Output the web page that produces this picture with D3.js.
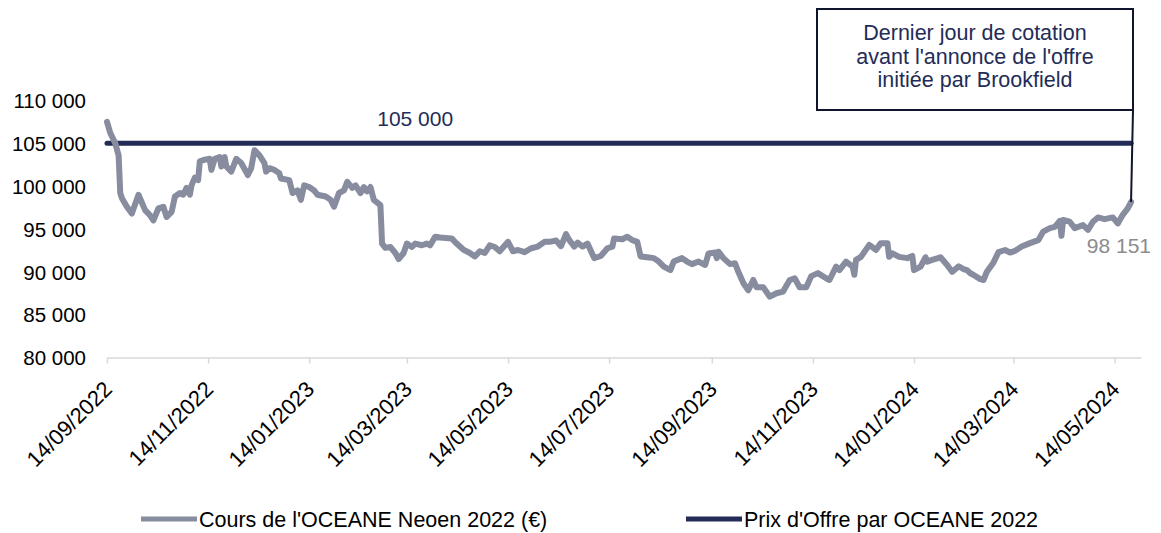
<!DOCTYPE html>
<html>
<head>
<meta charset="utf-8">
<script src="https://cdn.jsdelivr.net/npm/d3@7"></script>
<style>
  html, body { margin: 0; padding: 0; background: #fff; }
  svg { display: block; font-family: "Liberation Sans", Arial, sans-serif; }
</style>
</head>
<body>
<div id="chart"></div>
<script>
// ---------------------------------------------------------------
// Data
// ---------------------------------------------------------------
var coursOceane = [
  ['2022-09-14', 107500], ['2022-09-16', 106200], ['2022-09-19', 105000], ['2022-09-21', 103600],
  ['2022-09-22', 99200], ['2022-09-23', 98600], ['2022-09-26', 97600], ['2022-09-29', 96800],
  ['2022-10-03', 99000], ['2022-10-07', 97200], ['2022-10-10', 96600], ['2022-10-12', 96000],
  ['2022-10-15', 97400], ['2022-10-18', 97600], ['2022-10-20', 96400], ['2022-10-23', 97000],
  ['2022-10-25', 98800], ['2022-10-28', 99200], ['2022-10-30', 99000], ['2022-11-01', 99800],
  ['2022-11-03', 99000], ['2022-11-04', 100100], ['2022-11-06', 101000], ['2022-11-08', 100700],
  ['2022-11-09', 102900], ['2022-11-12', 103100], ['2022-11-15', 103200], ['2022-11-16', 101900],
  ['2022-11-18', 103200], ['2022-11-21', 103400], ['2022-11-22', 102300], ['2022-11-24', 103400],
  ['2022-11-25', 102300], ['2022-11-28', 101700], ['2022-12-01', 103200], ['2022-12-04', 102700],
  ['2022-12-08', 101300], ['2022-12-10', 102100], ['2022-12-12', 104200], ['2022-12-15', 103600],
  ['2022-12-18', 102700], ['2022-12-19', 101700], ['2022-12-21', 102100], ['2022-12-24', 101900],
  ['2022-12-27', 101500], ['2022-12-28', 100900], ['2023-01-02', 100700], ['2023-01-04', 99200],
  ['2023-01-07', 99500], ['2023-01-09', 98400], ['2023-01-11', 100100], ['2023-01-14', 99900],
  ['2023-01-17', 99500], ['2023-01-19', 99000], ['2023-01-24', 98800], ['2023-01-27', 98400],
  ['2023-01-29', 97600], ['2023-02-01', 99200], ['2023-02-04', 99500], ['2023-02-06', 100500],
  ['2023-02-09', 99800], ['2023-02-11', 100100], ['2023-02-14', 99200], ['2023-02-16', 99900],
  ['2023-02-18', 99400], ['2023-02-20', 99900], ['2023-02-22', 98400], ['2023-02-26', 97800],
  ['2023-02-27', 93300], ['2023-03-01', 92800], ['2023-03-04', 92900], ['2023-03-07', 92200],
  ['2023-03-09', 91500], ['2023-03-12', 92200], ['2023-03-14', 93300], ['2023-03-17', 92900],
  ['2023-03-19', 93300], ['2023-03-23', 93100], ['2023-03-26', 93300], ['2023-03-28', 93100],
  ['2023-03-31', 94100], ['2023-04-03', 94000], ['2023-04-10', 93900], ['2023-04-13', 93300],
  ['2023-04-17', 92600], ['2023-04-21', 92200], ['2023-04-24', 91800], ['2023-04-27', 92400],
  ['2023-04-30', 92200], ['2023-05-03', 93100], ['2023-05-06', 92900], ['2023-05-09', 92400],
  ['2023-05-14', 93500], ['2023-05-17', 92400], ['2023-05-20', 92550], ['2023-05-24', 92300],
  ['2023-05-28', 92750], ['2023-06-01', 92950], ['2023-06-05', 93500], ['2023-06-08', 93500],
  ['2023-06-12', 93650], ['2023-06-15', 93000], ['2023-06-18', 94400], ['2023-06-20', 93700],
  ['2023-06-23', 92950], ['2023-06-25', 93400], ['2023-06-28', 92950], ['2023-07-01', 93300],
  ['2023-07-05', 91600], ['2023-07-09', 91850], ['2023-07-13', 92750], ['2023-07-16', 92950],
  ['2023-07-17', 93900], ['2023-07-22', 93800], ['2023-07-25', 94100], ['2023-07-28', 93700],
  ['2023-07-31', 93500], ['2023-08-02', 91800], ['2023-08-06', 91700], ['2023-08-10', 91600],
  ['2023-08-13', 91200], ['2023-08-16', 90600], ['2023-08-20', 90200], ['2023-08-22', 91200],
  ['2023-08-27', 91600], ['2023-08-30', 91200], ['2023-09-02', 90900], ['2023-09-06', 91200],
  ['2023-09-10', 90800], ['2023-09-12', 92150], ['2023-09-16', 92250], ['2023-09-17', 91600],
  ['2023-09-18', 92350], ['2023-09-21', 91600], ['2023-09-25', 90900], ['2023-09-28', 91000],
  ['2023-09-30', 90000], ['2023-10-03', 88700], ['2023-10-06', 87850], ['2023-10-09', 89050],
  ['2023-10-11', 88200], ['2023-10-15', 88200], ['2023-10-19', 87100], ['2023-10-23', 87500],
  ['2023-10-27', 87700], ['2023-10-31', 89050], ['2023-11-03', 89250], ['2023-11-06', 88200],
  ['2023-11-10', 88200], ['2023-11-13', 89500], ['2023-11-17', 89850], ['2023-11-22', 89250],
  ['2023-11-24', 89050], ['2023-11-28', 90600], ['2023-11-30', 90200], ['2023-12-04', 91200],
  ['2023-12-08', 90600], ['2023-12-09', 89650], ['2023-12-10', 91400], ['2023-12-13', 91750],
  ['2023-12-18', 93150], ['2023-12-22', 92550], ['2023-12-25', 93350], ['2023-12-29', 93350],
  ['2023-12-30', 91750], ['2024-01-01', 92150], ['2024-01-05', 91750], ['2024-01-10', 91600],
  ['2024-01-13', 91850], ['2024-01-14', 90200], ['2024-01-18', 90600], ['2024-01-21', 91700],
  ['2024-01-22', 91200], ['2024-01-25', 91400], ['2024-01-30', 91700], ['2024-02-03', 90800],
  ['2024-02-06', 90000], ['2024-02-10', 90650], ['2024-02-13', 90300], ['2024-02-15', 90200],
  ['2024-02-17', 89830], ['2024-02-19', 89630], ['2024-02-23', 89150], ['2024-02-25', 89050],
  ['2024-02-27', 90020], ['2024-03-02', 91100], ['2024-03-05', 92300], ['2024-03-09', 92550],
  ['2024-03-12', 92250], ['2024-03-15', 92450], ['2024-03-19', 92950], ['2024-03-24', 93350],
  ['2024-03-29', 93700], ['2024-04-01', 94700], ['2024-04-05', 95100], ['2024-04-08', 95250],
  ['2024-04-11', 95950], ['2024-04-12', 94200], ['2024-04-13', 96050], ['2024-04-17', 95850],
  ['2024-04-20', 95100], ['2024-04-25', 95450], ['2024-04-28', 94900], ['2024-05-01', 95850],
  ['2024-05-04', 96350], ['2024-05-08', 96150], ['2024-05-13', 96350], ['2024-05-16', 95650],
  ['2024-05-19', 96650], ['2024-05-22', 97400], ['2024-05-24', 98151]
];

var prixOffre = 105000;
var xTickDates = ['2022-09-14', '2022-11-14', '2023-01-14', '2023-03-14', '2023-05-14',
  '2023-07-14', '2023-09-14', '2023-11-14', '2024-01-14', '2024-03-14', '2024-05-14'];
var yTicks = [80000, 85000, 90000, 95000, 100000, 105000, 110000];
var xDomain = ['2022-09-14', '2024-05-30'];
var legendLabels = ["Cours de l'OCEANE Neoen 2022 (€)", "Prix d'Offre par OCEANE 2022"];
var annotationLines = ['Dernier jour de cotation', "avant l'annonce de l'offre", 'initiée par Brookfield'];
var offreLabelDate = '2023-03-19';

// ---------------------------------------------------------------
var W = 1161, H = 533;
var GREY = '#878c9f', NAVY = '#232c57', DARK = '#10152e';
var parse = d3.timeParse('%Y-%m-%d');
var fmtDate = d3.timeFormat('%d/%m/%Y');
var fr = d3.formatLocale({ decimal: ',', thousands: ' ', grouping: [3], currency: ['', ' €'] });
var fmtNum = fr.format(',.0f');

var series = coursOceane.map(function (d) { return { date: parse(d[0]), value: d[1] }; });
var first = series[0], last = series[series.length - 1];

var x = d3.scaleTime().domain(xDomain.map(parse)).range([107, 1141]);
var y = d3.scaleLinear().domain([80000, 110000]).range([357.5, 100.5]);

var svg = d3.select('#chart').append('svg').attr('width', W).attr('height', H);

// x axis
var xAxis = d3.axisBottom(x)
  .tickValues(xTickDates.map(parse))
  .tickFormat(fmtDate)
  .tickSize(6)
  .tickSizeOuter(0);
var gx = svg.append('g').attr('transform', 'translate(0,' + y(80000) + ')').call(xAxis);
gx.select('.domain').attr('stroke', '#d9d9d9').attr('stroke-width', 1.5);
gx.selectAll('.tick line').attr('stroke', '#d9d9d9').attr('stroke-width', 1.5);
gx.selectAll('.tick text')
  .attr('fill', '#000')
  .attr('font-size', 22)
  .attr('text-anchor', 'end')
  .attr('transform', 'translate(6,33) rotate(-45)')
  .attr('x', 0).attr('y', 0).attr('dy', 0);

// y axis (labels only)
var gy = svg.append('g').attr('transform', 'translate(86,0)')
  .call(d3.axisLeft(y).tickValues(yTicks).tickFormat(fmtNum).tickSize(0));
gy.select('.domain').remove();
gy.selectAll('.tick text').attr('fill', '#000').attr('font-size', 20.5).attr('x', 0).attr('dy', '0.35em');

// offer price line
svg.append('line')
  .attr('x1', x(first.date)).attr('x2', x(last.date))
  .attr('y1', y(prixOffre)).attr('y2', y(prixOffre))
  .attr('stroke', NAVY).attr('stroke-width', 5).attr('stroke-linecap', 'round');

svg.append('text')
  .attr('x', x(parse(offreLabelDate))).attr('y', y(prixOffre) - 17)
  .attr('text-anchor', 'middle').attr('font-size', 21).attr('fill', NAVY)
  .text(fmtNum(prixOffre));

// price series
var line = d3.line().x(function (d) { return x(d.date); }).y(function (d) { return y(d.value); });
svg.append('path')
  .datum(series)
  .attr('d', line)
  .attr('fill', 'none')
  .attr('stroke', GREY)
  .attr('stroke-width', 6)
  .attr('stroke-linejoin', 'round')
  .attr('stroke-linecap', 'round');

// last value label
svg.append('text')
  .attr('x', x(last.date) + 20).attr('y', y(last.value) + 51)
  .attr('text-anchor', 'end')
  .attr('font-size', 21).attr('fill', '#8c8c8c')
  .text(fmtNum(last.value));

// annotation box + connector
var box = { x: 817, y: 9, w: 316, h: 101 };
svg.append('line')
  .attr('x1', box.x + box.w).attr('y1', box.y + box.h)
  .attr('x2', x(last.date)).attr('y2', y(last.value))
  .attr('stroke', DARK).attr('stroke-width', 2);
svg.append('rect')
  .attr('x', box.x).attr('y', box.y).attr('width', box.w).attr('height', box.h)
  .attr('fill', '#fff').attr('stroke', DARK).attr('stroke-width', 2);
svg.append('text')
  .attr('text-anchor', 'middle').attr('font-size', 21.5).attr('fill', NAVY)
  .selectAll('tspan').data(annotationLines).join('tspan')
  .attr('x', box.x + box.w / 2)
  .attr('y', function (d, i) { return 40 + i * 23.5; })
  .text(function (d) { return d; });

// legend
var legend = svg.append('g').attr('transform', 'translate(0,519)');
var items = [{ label: legendLabels[0], color: GREY, x: 141 }, { label: legendLabels[1], color: NAVY, x: 686 }];
var li = legend.selectAll('g').data(items).join('g')
  .attr('transform', function (d) { return 'translate(' + d.x + ',0)'; });
li.append('line').attr('x1', 0).attr('x2', 56).attr('y1', 0).attr('y2', 0)
  .attr('stroke', function (d) { return d.color; }).attr('stroke-width', 5);
li.append('text').attr('x', 58).attr('y', 0).attr('dy', '0.35em')
  .attr('font-size', 21.5).attr('fill', '#000')
  .text(function (d) { return d.label; });
</script>
</body>
</html>
